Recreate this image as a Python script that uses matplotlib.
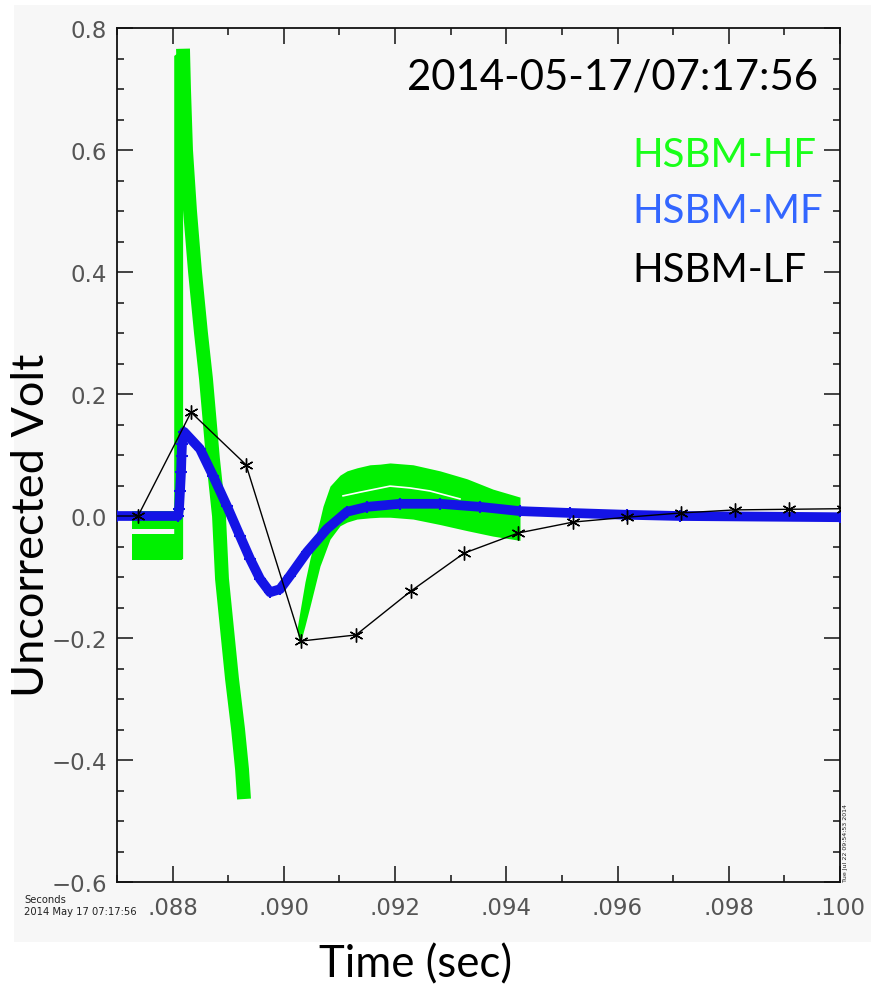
import matplotlib
matplotlib.use('Agg')
import matplotlib.pyplot as plt
from matplotlib.ticker import MultipleLocator, FixedLocator, FixedFormatter
from matplotlib.patches import Rectangle

# ---------------- data ----------------
# HSBM-MF (blue)
mf_t = [0.087000, 0.088097, 0.088115, 0.088133, 0.088151, 0.088160, 0.088169,
        0.088205, 0.088492, 0.088726, 0.088978, 0.089212, 0.089391, 0.089571,
        0.089751, 0.089931, 0.090111, 0.090416, 0.090776, 0.091136, 0.091495,
        0.092089, 0.092808, 0.093527, 0.094246, 0.095145, 0.096170, 0.097123,
        0.100000]
mf_v = [0.000, 0.000, 0.011, 0.041, 0.072, 0.098, 0.118,
        0.138, 0.110, 0.066, 0.016, -0.033, -0.070, -0.103,
        -0.125, -0.120, -0.098, -0.059, -0.021, 0.007, 0.015,
        0.020, 0.020, 0.015, 0.008, 0.005, 0.002, 0.000,
        -0.002]

# HSBM-LF (black, asterisks)
lf_t = [0.08641, 0.087378, 0.088331, 0.089320, 0.090308, 0.091297, 0.092286,
        0.093239, 0.094210, 0.095199, 0.096170, 0.097141, 0.098112, 0.099083,
        0.100054]
lf_v = [0.000, 0.000, 0.170, 0.084, -0.205, -0.195, -0.123,
        -0.061, -0.028, -0.010, -0.002, 0.005, 0.010, 0.011,
        0.012]

# HSBM-HF (green) - pre-trigger two-level band
hf_pre_t = [0.08727, 0.08817]
hf_pre_a_top = [0.008, 0.008]
hf_pre_a_bot = [-0.022, -0.022]
hf_pre_b_top = [-0.030, -0.030]
hf_pre_b_bot = [-0.072, -0.072]
# HF rising edge column
hf_rise_t = [0.08802, 0.08818]
hf_rise_top = [0.755, 0.766]
hf_rise_bot = [-0.070, -0.070]
# HF falling edge (band centre)
hf_fall_t = [0.088187, 0.088205, 0.088241, 0.088313, 0.088403, 0.088510,
             0.088600, 0.088726, 0.088834, 0.088888, 0.089014, 0.089068,
             0.089176, 0.089248, 0.089284]
hf_fall_v = [0.766, 0.700, 0.600, 0.500, 0.400, 0.300,
             0.225, 0.093, 0.000, -0.103, -0.218, -0.267,
             -0.349, -0.415, -0.464]
# HF ringing envelope
hf_ring_t = [0.090237, 0.090290, 0.090380, 0.090470, 0.090560, 0.090650,
             0.090704, 0.090830, 0.091010, 0.091136, 0.091315, 0.091549,
             0.091729, 0.091909, 0.092322, 0.092808, 0.093293, 0.093761,
             0.094246]
hf_ring_top = [-0.185, -0.156, -0.108, -0.070, -0.038, -0.005,
               0.016, 0.049, 0.067, 0.074, 0.079, 0.084,
               0.085, 0.087, 0.084, 0.074, 0.061, 0.044,
               0.031]
hf_ring_bot = [-0.189, -0.210, -0.180, -0.148, -0.115, -0.082,
               -0.069, -0.038, -0.016, -0.010, -0.005, -0.003,
               -0.002, -0.002, -0.005, -0.014, -0.024, -0.033,
               -0.040]
# gap between the two HF sample levels
hf_gap_t = [0.091064, 0.091369, 0.091909, 0.092268, 0.092628, 0.093167]
hf_gap_v = [0.033, 0.039, 0.049, 0.046, 0.041, 0.028]

xtick_vals = [0.088, 0.090, 0.092, 0.094, 0.096, 0.098, 0.100]
xtick_labels = ['.088', '.090', '.092', '.094', '.096', '.098', '.100']
ytick_vals = [-0.6, -0.4, -0.2, 0.0, 0.2, 0.4, 0.6, 0.8]
ytick_labels = ['\u22120.6', '\u22120.4', '\u22120.2', '0.0', '0.2', '0.4', '0.6', '0.8']

legend_names = ['HSBM-HF', 'HSBM-MF', 'HSBM-LF']
legend_colors = ['#19ff19', '#3366ff', '#000000']
title_text = '2014-05-17/07:17:56'

# ---------------- figure ----------------
W, H = 871, 987
fig = plt.figure(figsize=(W / 100, H / 100), dpi=100)
fig.patch.set_facecolor('white')
BG = '#f7f7f7'
fig.patches.append(Rectangle((14 / W, 1 - 943 / H), 1 - 14 / W, (943 - 6) / H,
                             transform=fig.transFigure, facecolor=BG,
                             edgecolor='none', zorder=-5))

ax = fig.add_axes([117 / W, 1 - 883 / H, (840 - 117) / W, (883 - 29) / H])
ax.set_zorder(1)
ax.set_facecolor(BG)
ax.set_xlim(0.087, 0.100)
ax.set_ylim(-0.6, 0.8)

GREEN = '#00f000'
BLUE = '#1414e6'

# HF
ax.fill_between(hf_pre_t, hf_pre_a_bot, hf_pre_a_top, color=GREEN, lw=0, zorder=2)
ax.fill_between(hf_pre_t, hf_pre_b_bot, hf_pre_b_top, color=GREEN, lw=0, zorder=2)
ax.fill_between(hf_rise_t, hf_rise_bot, hf_rise_top, color=GREEN, lw=0, zorder=2)
ax.plot(hf_fall_t, hf_fall_v, color=GREEN, lw=10, solid_capstyle='butt', zorder=2)
ax.fill_between(hf_ring_t, hf_ring_bot, hf_ring_top, color=GREEN, lw=0, zorder=2)
ax.plot(hf_gap_t, hf_gap_v, color='white', lw=1.2, zorder=2.5)

# MF
ax.plot(mf_t, mf_v, color=BLUE, lw=7, solid_capstyle='butt', solid_joinstyle='round',
        marker='+', ms=9, mew=1.5, zorder=3)

# LF
ax.plot(lf_t, lf_v, color='black', lw=1.0, marker=(6, 2, 0), ms=10, mew=1.0, zorder=4)

# axes styling
for s in ax.spines.values():
    s.set_linewidth(1.3)
    s.set_color('#111111')
ax.xaxis.set_major_locator(FixedLocator(xtick_vals))
ax.xaxis.set_major_formatter(FixedFormatter(xtick_labels))
ax.xaxis.set_minor_locator(MultipleLocator(0.001))
ax.yaxis.set_major_locator(FixedLocator(ytick_vals))
ax.yaxis.set_major_formatter(FixedFormatter(ytick_labels))
ax.yaxis.set_minor_locator(MultipleLocator(0.05))
ax.tick_params(which='both', direction='in', top=True, right=True, color='#111111',
               width=1.1)
ax.tick_params(which='major', length=11.5)
ax.tick_params(which='minor', length=5)
ax.tick_params(axis='x', which='major', pad=10, labelsize=16.5, labelcolor='#555555')
ax.tick_params(axis='y', which='major', pad=7, labelsize=16.5, labelcolor='#555555')

# big texts
fig.text(407 / W, 1 - 90 / H, title_text, ha='left', va='baseline', color='black',
         family='Lato', fontsize=30.2)
for name, col, yb in zip(legend_names, legend_colors, [167, 223, 282]):
    fig.text(632 / W, 1 - yb / H, name, ha='left', va='baseline', color=col,
             family='Lato', fontsize=29)

fig.text(416 / W, 1 - 977 / H, 'Time (sec)', ha='center', va='baseline',
         color='black', family='Lato', fontsize=31.5)
fig.text(31 / W, 1 - 525 / H, 'Uncorrected Volt', ha='center', va='center',
         rotation=90, color='black', family='Lato', fontsize=32.5)

# small IDL annotations
fig.text(24 / W, 1 - 903 / H, 'Seconds', ha='left', va='baseline', fontsize=7.2,
         color='#222222', zorder=5)
fig.text(24 / W, 1 - 915 / H, '2014 May 17 07:17:56', ha='left', va='baseline',
         fontsize=7.2, color='#222222', zorder=5)
fig.text(845 / W, 1 - 843 / H, 'Tue Jul 22 09:54:53 2014', ha='center', va='center',
         rotation=90, fontsize=4.5, color='#222222', zorder=5)

fig.savefig('out.png', dpi=100, facecolor='white')
